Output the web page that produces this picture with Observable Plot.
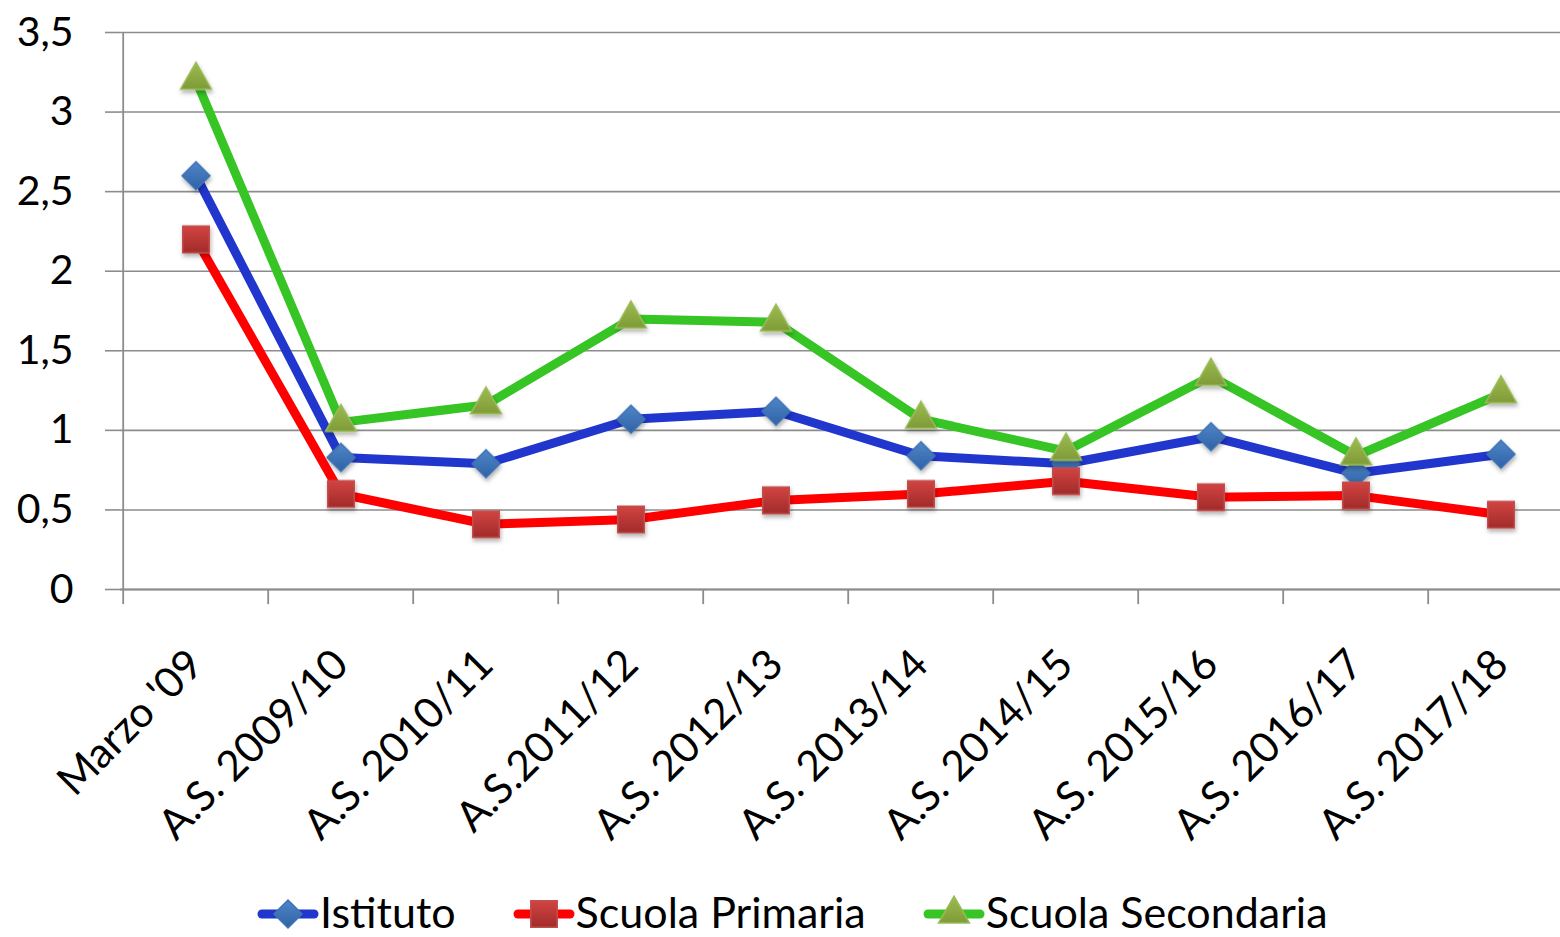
<!DOCTYPE html>
<html>
<head>
<meta charset="utf-8">
<script src="https://cdn.jsdelivr.net/npm/d3@7"></script>
<script src="https://cdn.jsdelivr.net/npm/@observablehq/plot@0.6"></script>
<style>
  html, body { margin: 0; padding: 0; background: #fff; }
  #chart { width: 1560px; height: 937px; position: relative; overflow: hidden; font-family: Lato, "Open Sans", sans-serif; }
  #legend { position: absolute; left: 258px; top: 893px; height: 38px; display: flex; align-items: center; gap: 58px; font-size: 43px; line-height: 38px; color: #000; }
  .item { display: flex; align-items: center; height: 38px; }
  .item svg { display: block; margin-right: 2px; }
  .item span { display: block; height: 38px; line-height: 38px; }
</style>
</head>
<body>
<div id="chart"></div>
<script>
const categories = ["Marzo '09", "A.S. 2009/10", "A.S. 2010/11", "A.S.2011/12", "A.S. 2012/13", "A.S. 2013/14", "A.S. 2014/15", "A.S. 2015/16", "A.S. 2016/17", "A.S. 2017/18"];
const istituto   = [2.60, 0.83, 0.79, 1.07, 1.12, 0.84, 0.79, 0.96, 0.73, 0.85];
const primaria   = [2.20, 0.60, 0.41, 0.44, 0.56, 0.60, 0.68, 0.58, 0.59, 0.47];
const secondaria = [3.20, 1.05, 1.16, 1.70, 1.68, 1.07, 0.87, 1.34, 0.84, 1.23];
const yTicks = [0, 0.5, 1, 1.5, 2, 2.5, 3, 3.5];

const seriesDefs = [
  {name: "Istituto", values: istituto, line: "#2036cc", symbol: "diamond2", r: 12.6, fill: "url(#gBlue)", stroke: "#3f73b4"},
  {name: "Scuola Primaria", values: primaria, line: "#ff0000", symbol: "square", r: 15.0, fill: "url(#gRed)", stroke: "#c0504d"},
  {name: "Scuola Secondaria", values: secondaria, line: "#36c524", symbol: "triangle", r: 11.5, fill: "url(#gGreen)", stroke: "#9bbb59"}
];

const rows = seriesDefs.flatMap(s => categories.map((c, i) => ({serie: s.name, cat: c, value: s.values[i]})));

const xRange = [120, 1576];
const bw = d3.scaleBand().domain(categories).range(xRange).bandwidth();
const fmt = d => String(d).replace(".", ",");

const marks = [
  Plot.gridY(yTicks, {stroke: "#8c8c8c", strokeOpacity: 1, strokeWidth: 1.6}),
  Plot.axisY(yTicks, {tickSize: 15, tickPadding: 32, tickFormat: fmt, stroke: "#8c8c8c", strokeWidth: 1.6, fill: "#000", fontSize: 41, label: null}),
  Plot.ruleY([0], {stroke: "#8c8c8c", strokeWidth: 1.8}),
  Plot.ruleX([categories[0]], {y1: 0, y2: 3.5, dx: -bw / 2, stroke: "#8c8c8c", strokeWidth: 1.8}),
  Plot.ruleX(categories, {x: d => d, y1: 0, y2: -0.095, dx: -bw / 2, stroke: "#8c8c8c", strokeWidth: 1.8}),
  Plot.axisX({tickSize: 0, tickRotate: -45, tickPadding: 68, fontSize: 42, fill: "#000", label: null})
];
for (const s of seriesDefs) {
  const data = rows.filter(r => r.serie === s.name);
  marks.push(Plot.line(data, {x: "cat", y: "value", stroke: s.line, strokeWidth: 9, strokeLinejoin: "round"}));
  marks.push(Plot.dot(data, {x: "cat", y: "value", symbol: () => s.symbol, r: s.r, fill: s.fill, stroke: s.stroke, strokeWidth: 1.5}));
}

const plot = Plot.plot({
  width: 1560,
  height: 880,
  marginTop: 32,
  marginBottom: 291,
  marginLeft: 120,
  marginRight: 0,
  style: {fontFamily: "Lato, 'Open Sans', sans-serif", background: "#fff", color: "#000", overflow: "visible"},
  x: {type: "band", domain: categories, range: xRange, padding: 0, axis: null},
  y: {domain: [0, 3.5], axis: null},
  symbol: {type: "identity"},
  marks
});

// gradients & shadow
const ns = "http://www.w3.org/2000/svg";
const defs = document.createElementNS(ns, "defs");
defs.innerHTML = `
  <linearGradient id="gBlue" x1="0" y1="0" x2="0" y2="1"><stop offset="0" stop-color="#4f86c8"/><stop offset="1" stop-color="#2f62a6"/></linearGradient>
  <linearGradient id="gRed" x1="0" y1="0" x2="0" y2="1"><stop offset="0" stop-color="#d24442"/><stop offset="1" stop-color="#a12b2a"/></linearGradient>
  <linearGradient id="gGreen" x1="0" y1="0" x2="0" y2="1"><stop offset="0" stop-color="#9dbb50"/><stop offset="1" stop-color="#7f9b38"/></linearGradient>
  <filter id="shadow" x="-50%" y="-50%" width="200%" height="200%"><feDropShadow dx="1" dy="3" stdDeviation="2" flood-color="#000" flood-opacity="0.3"/></filter>`;
plot.insertBefore(defs, plot.firstChild);
plot.querySelectorAll("g[aria-label=dot]").forEach(g => g.setAttribute("filter", "url(#shadow)"));

document.getElementById("chart").appendChild(plot);

// legend
const legend = document.createElement("div");
legend.id = "legend";
const symPath = {
  "diamond2": d3.symbol(d3.symbolDiamond2, 500)(),
  "square": d3.symbol(d3.symbolSquare, 700)(),
  "triangle": d3.symbol(d3.symbolTriangle, 415)()
};
for (const s of seriesDefs) {
  const item = document.createElement("div");
  item.className = "item";
  item.innerHTML = `<svg width="60" height="38" viewBox="0 0 60 38" style="overflow:visible">
     <line x1="4" x2="56" y1="21" y2="21" stroke="${s.line}" stroke-width="9" stroke-linecap="round"/>
     <path d="${symPath[s.symbol]}" transform="translate(30,21)" fill="${s.fill}" stroke="${s.stroke}" stroke-width="1.5"/>
   </svg><span>${s.name}</span>`;
  legend.appendChild(item);
}
document.getElementById("chart").appendChild(legend);
const legDefs = document.createElementNS(ns, "svg");
legDefs.setAttribute("width", 0); legDefs.setAttribute("height", 0);
legDefs.style.position = "absolute";
legDefs.innerHTML = "<defs>" + defs.innerHTML + "</defs>";
document.getElementById("chart").appendChild(legDefs);
</script>
</body>
</html>
